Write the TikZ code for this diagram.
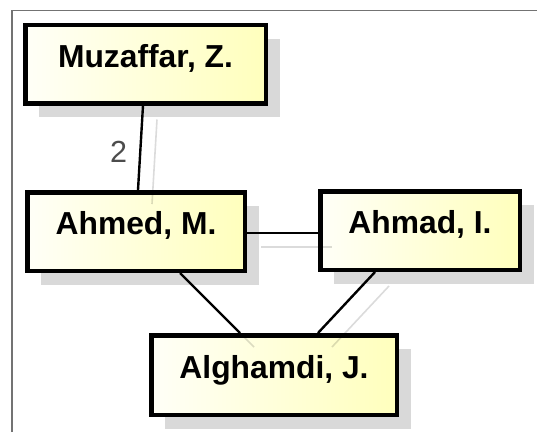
\documentclass[tikz,border=0pt]{standalone}
\usepackage{fontspec}
\setmainfont{Liberation Sans}
\usetikzlibrary{shadows}

\begin{document}
\begin{tikzpicture}[x=1pt, y=-1pt,
  author/.style={draw=black, line width=4.5pt, left color=yellow!3, right color=yellow!26,
    drop shadow={shadow xshift=14pt, shadow yshift=-14pt, fill=black!15, opacity=1},
    inner sep=0pt, minimum height=78.5pt, text height=20pt, text depth=14pt,
    font=\bfseries\fontsize{31.8}{36}\selectfont},
  coauth/.style={black, line width=2.4pt},
  ghost/.style={black, opacity=0.14, line width=1.6pt},
  weight/.style={text=black!70, inner sep=0pt, font=\fontsize{30.5}{34}\selectfont}]
\useasboundingbox (0,0) rectangle (537,432);
% frame (only top and left edges show)
\draw[black!55, line width=1.5pt] (12,432) |- (537,10.5);
% co-author nodes
\node[author, minimum width=240.5pt] (muz) at (145.5,64) {Muzaffar, Z.};
\node[author, minimum width=217.5pt] (ahmed) at (136,231.5) {Ahmed, M.};
\node[author, minimum width=199.5pt] (ahmad) at (420,230.5) {Ahmad, I.};
\node[author, minimum width=245.5pt, minimum height=79.5pt] (algh) at (274,375) {Alghamdi, J.};
% co-authorship links
\draw[coauth] ([xshift=-2.5pt]muz.south) -- ([xshift=2pt]ahmed.north)
  node[weight, pos=0.55, left=12pt] (w1) {2};
\draw[coauth] ([yshift=-1.2pt]ahmed.east) -- ([yshift=-1.2pt]ahmed.east -| ahmad.west);
\draw[coauth] ([xshift=44pt]ahmed.south) -- ([xshift=-34pt]algh.north);
\draw[coauth] ([xshift=-45pt]ahmad.south) -- ([xshift=44pt]algh.north);
% faint offset copies of the links
\begin{scope}[transform canvas={xshift=14pt, yshift=-14pt}]
\draw[ghost] ([xshift=-2.5pt]muz.south) -- ([xshift=2pt]ahmed.north);
\draw[ghost] ([yshift=-1.2pt]ahmed.east) -- ([yshift=-1.2pt]ahmed.east -| ahmad.west);
\draw[ghost] ([xshift=44pt]ahmed.south) -- ([xshift=-34pt]algh.north);
\draw[ghost] ([xshift=-45pt]ahmad.south) -- ([xshift=44pt]algh.north);
\end{scope}
\end{tikzpicture}
\end{document}
